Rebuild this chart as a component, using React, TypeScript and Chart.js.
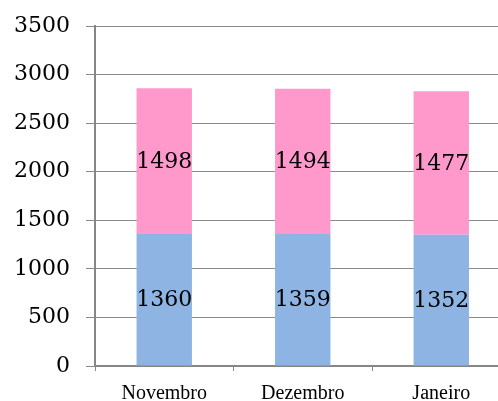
import React, { useEffect, useRef } from "react";
import { Chart, registerables } from "chart.js";

Chart.register(...registerables);

const categories = ["Novembro", "Dezembro", "Janeiro"];
const blueValues = [1360, 1359, 1352];
const pinkValues = [1498, 1494, 1477];
const yTicks = [0, 500, 1000, 1500, 2000, 2500, 3000, 3500];

const labelPlugin = {
  id: "barLabels",
  afterDatasetsDraw(chart: any) {
    const ctx = chart.ctx;
    ctx.save();
    ctx.font = "22px 'DejaVu Serif'";
    ctx.fillStyle = "#000";
    ctx.textAlign = "center";
    ctx.textBaseline = "middle";
    chart.data.datasets.forEach((ds: any, di: number) => {
      const meta = chart.getDatasetMeta(di);
      meta.data.forEach((bar: any, i: number) => {
        const p = bar.getProps(["x", "y", "base"], true);
        const cy = (p.y + p.base) / 2 + 1;
        ctx.fillText(String(ds.data[i]), p.x, cy);
      });
    });
    ctx.restore();
  },
};

export default function App() {
  const ref = useRef<HTMLCanvasElement>(null);
  useEffect(() => {
    document.body.style.margin = "0";
    document.body.style.overflow = "hidden";
    const chart = new Chart(ref.current!, {
      type: "bar",
      data: {
        labels: categories,
        datasets: [
          { label: "A", data: blueValues, backgroundColor: "#8EB4E3", barPercentage: 0.4, categoryPercentage: 1 },
          { label: "B", data: pinkValues, backgroundColor: "#FF99CC", barPercentage: 0.4, categoryPercentage: 1 },
        ],
      },
      options: {
        responsive: false,
        animation: false,
        layout: { padding: { top: 26, left: 0, right: 1.5, bottom: 0 } },
        plugins: { legend: { display: false }, tooltip: { enabled: false } },
        scales: {
          x: {
            stacked: true,
            grid: { drawOnChartArea: false, drawTicks: true, tickLength: 5, color: "#868686", offset: true },
            border: { display: true, color: "#868686", width: 2 },
            ticks: { color: "#000", font: { family: "'Liberation Serif'", size: 20 }, padding: 11 },
            afterFit: (s: any) => { s.height = 35; s.paddingLeft = 0; s.paddingRight = 0; },
          },
          y: {
            stacked: true,
            min: 0,
            max: 3500,
            afterBuildTicks: (s: any) => { s.ticks = yTicks.map((v) => ({ value: v })); },
            grid: { color: "#8a8a8a", lineWidth: 1, tickLength: 9 },
            border: { display: true, color: "#868686", width: 2 },
            ticks: {
              color: "#000",
              font: { family: "'DejaVu Serif'", size: 22 },
              padding: 16,
              callback: (v: any) => String(v),
            },
            afterFit: (s: any) => { s.width = 95; s.paddingTop = 0; s.paddingBottom = 0; },
          },
        },
      },
      plugins: [labelPlugin],
    });
    return () => chart.destroy();
  }, []);
  return (
    <div style={{ position: "absolute", left: 0, top: 0, width: 498, height: 401, overflow: "hidden" }}>
      <canvas ref={ref} width={512} height={401} style={{ display: "block" }} />
    </div>
  );
}
